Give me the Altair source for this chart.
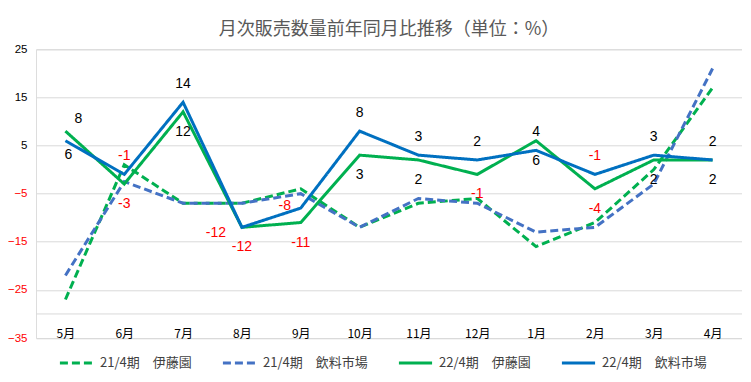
import altair as alt
import pandas as pd

# ---- data ----
months = ["5月", "6月", "7月", "8月", "9月", "10月", "11月", "12月", "1月", "2月", "3月", "4月"]
series_names = ["21/4期　伊藤園", "21/4期　飲料市場", "22/4期　伊藤園", "22/4期　飲料市場"]

ito_21 = [-27, 1, -7, -7, -4, -12, -7, -6, -16, -11, 0, 17]
mkt_21 = [-22, -2.5, -7, -7, -5, -12, -6, -7, -13, -12, -3, 21]
ito_22 = [8, -3, 12, -12, -11, 3, 2, -1, 6, -4, 2, 2]
mkt_22 = [6, -1, 14, -12, -8, 8, 3, 2, 4, -1, 3, 2]

# where each data label sits relative to its point
ito_22_label_pos = ["above_right", "below", "below", "below", "below", "below",
                    "below", "below", "below", "below", "below", "below"]
mkt_22_label_pos = ["below_near", "above", "above", "left_low", "left", "above",
                    "above", "above", "above", "above", "above", "above"]

y_tick_values = [25, 15, 5, -5, -15, -25, -35]
axis_line_value = [-30]
colors = ["#00B050", "#4472C4", "#00B050", "#0070C0"]
dashes = [[8, 4], [8, 4], [1, 0], [1, 0]]

title_text = "月次販売数量前年同月比推移（単位：%）"

# ---- tables ----
rows = []
for name, vals in zip(series_names, [ito_21, mkt_21, ito_22, mkt_22]):
    for m, v in zip(months, vals):
        rows.append({"series": name, "month": m, "value": v, "dashed": name.startswith("21")})
df = pd.DataFrame(rows)

lab_rows = []
for vals, pos in [(ito_22, ito_22_label_pos), (mkt_22, mkt_22_label_pos)]:
    for m, v, p in zip(months, vals, pos):
        lab_rows.append({"month": m, "value": v, "pos": p, "label": f"{v:g}"})
lab = pd.DataFrame(lab_rows)

x_enc = alt.X(
    "month:N", sort=months,
    scale=alt.Scale(type="point", padding=0.5),
    axis=alt.Axis(title=None, labelAngle=0, domain=False, ticks=False, grid=False,
                  labelPadding=-4.5, labelBaseline="middle",
                  labelFont="Noto Sans CJK JP", labelFontSize=12, labelColor="#000000"),
)
y_enc = alt.Y(
    "value:Q",
    scale=alt.Scale(domain=[-35, 25], nice=False, zero=False),
    axis=alt.Axis(title=None, values=y_tick_values, domain=False, ticks=False,
                  labelPadding=9, labelFont="Liberation Sans", labelFontSize=11.5,
                  labelColor={"condition": {"test": "datum.value < 0", "value": "#FF0000"},
                              "value": "#000000"},
                  gridColor="#D9D9D9", gridWidth=1),
)

legend = alt.Legend(
    title=None, orient="none", legendX=22, legendY=295, direction="horizontal",
    symbolType="stroke", symbolStrokeWidth=3, symbolSize=1100,
    labelFont="Noto Sans CJK JP", labelFontSize=13, labelColor="#404040",
    columnPadding=24, labelOffset=5, padding=0,
)
color_enc = alt.Color("series:N", scale=alt.Scale(domain=series_names, range=colors), legend=legend)
dash_enc = alt.StrokeDash("series:N", scale=alt.Scale(domain=series_names, range=dashes), legend=legend)

base = alt.Chart(df).encode(x=x_enc, y=y_enc, color=color_enc, strokeDash=dash_enc)

dashed = base.transform_filter("datum.dashed").mark_line(strokeWidth=3)
solid = base.transform_filter("!datum.dashed").mark_line(strokeWidth=3)

rule = alt.Chart(pd.DataFrame({"v": axis_line_value})).mark_rule(
    color="#D9D9D9", strokeWidth=1).encode(y="v:Q")

offsets = {
    "above": (0, -18),
    "below": (0, 20),
    "below_near": (3, 14),
    "above_right": (13, -12),
    "left_low": (-26, 6),
    "left": (-16, -2),
}
text_layers = []
for p, (dx, dy) in offsets.items():
    text_layers.append(
        alt.Chart(lab).transform_filter(f"datum.pos == '{p}'").mark_text(
            font="Liberation Sans", fontSize=14, dx=dx, dy=dy, baseline="middle", align="center"
        ).encode(
            x=alt.X("month:N", sort=months),
            y=alt.Y("value:Q"),
            text="label:N",
            color=alt.condition("datum.value < 0", alt.value("#FF0000"), alt.value("#000000")),
        )
    )

chart = alt.layer(rule, dashed, solid, *text_layers).properties(
    width=706, height=288.7,
    padding={"left": 28, "top": 41.3, "right": 0, "bottom": 35},
    autosize=alt.AutoSizeParams(type="none"),
    title=alt.TitleParams(title_text, font="Noto Sans CJK JP", fontSize=18, fontWeight="normal",
                          color="#595959", anchor="middle", offset=4),
).configure_view(stroke=None).configure(background="white")

chart.save("out.html", embed_options={"renderer": "svg", "actions": False})
